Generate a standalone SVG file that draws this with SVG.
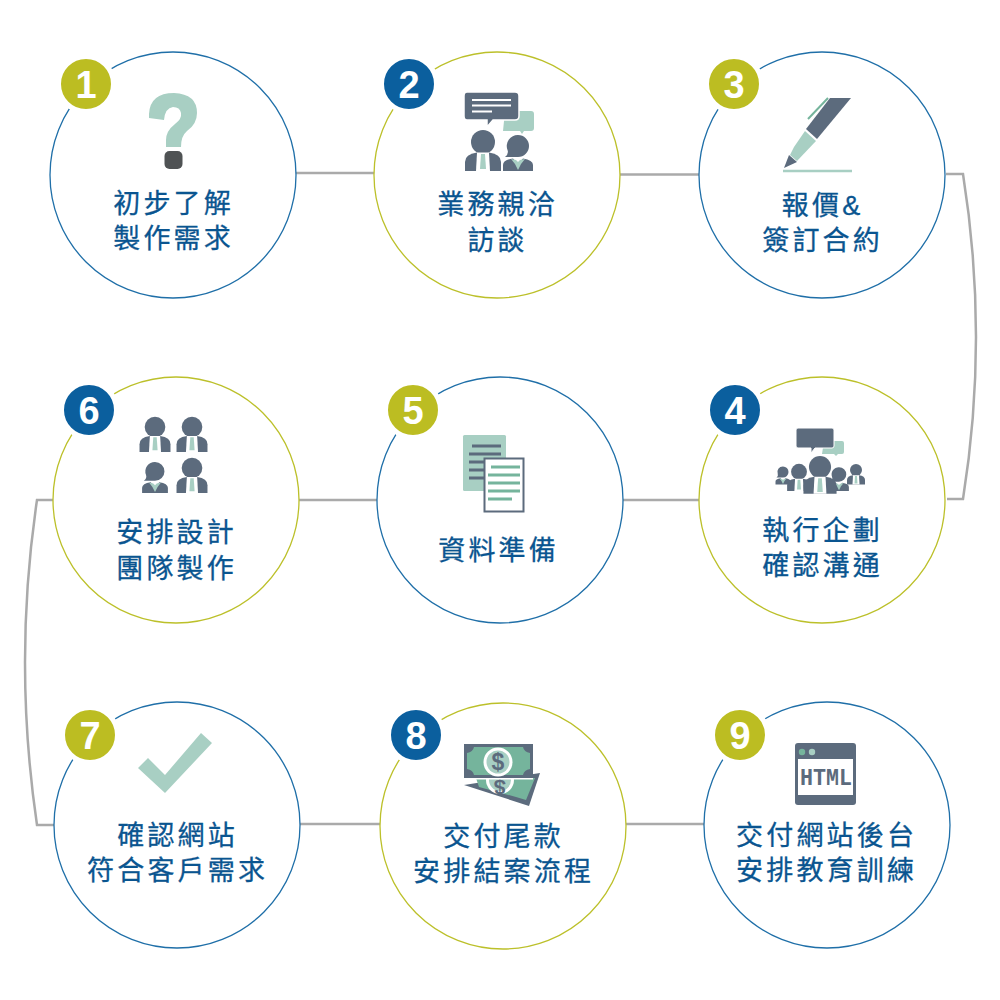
<svg xmlns="http://www.w3.org/2000/svg" width="1000" height="1000" viewBox="0 0 1000 1000">
<style>
.cb{fill:#fff;stroke:#1f6fa8;stroke-width:1.3}
.co{fill:#fff;stroke:#bcc02a;stroke-width:1.3}
.bb{fill:#0b5f9e;stroke:#fff;stroke-width:5}
.bo{fill:#bcbd22;stroke:#fff;stroke-width:5}
.n{font:bold 38px "Liberation Sans",Arial,sans-serif;fill:#fff;text-anchor:middle}
.t{font:400 27px "Liberation Sans","Noto Sans CJK TC",sans-serif;fill:#0a5590;stroke:#0a5590;stroke-width:.3;text-anchor:middle;letter-spacing:3.2px}
.c{fill:none;stroke:#aaa;stroke-width:2.5}
.d{fill:#5c6b7d}.g{fill:#a8cfc3}.m{fill:#75b49c}.w{fill:#fff}
.ml{stroke:#75b49c}.wl{stroke:#fff;stroke-width:2}
</style>
<defs>
<g id="man"><circle cx="0" cy="-14" r="12" class="d"/><path class="d" d="M-18 15V6Q-18-2-6-3.500H6Q18-2 18 6V15Z"/><path class="w" d="M-6-3.500H6L7 15H-7Z"/><path class="g" d="M-2-2H2L3 13H-3Z"/></g>
<g id="woman"><path class="d" d="M0-21A11 11 0 0 1 0 1H-13Q-9-2-10.500-6A11 11 0 0 1 0-21Z"/><path class="d" d="M-15 15V9Q-15 4-5 2.500L0 8 5 2.500Q15 4 15 9V15Z"/><path class="g" d="M-7 3L-2 4 0 6 2 4 7 3 3 8 0 14-3 8Z"/></g>
</defs>
<g id="connectors">
<path class="c" d="M296 173H375"/>
<path class="c" d="M620 174.500H699"/>
<path class="c" d="M946 174H963Q989 337 963 499H947"/>
<path class="c" d="M623 500H699"/>
<path class="c" d="M299 500H377"/>
<path class="c" d="M53 500H37Q13 662 37 825H54"/>
<path class="c" d="M300 824H380"/>
<path class="c" d="M626 824H704"/>
</g>
<g id="node1">
<circle class="cb" cx="173" cy="175" r="123"/><circle class="bo" cx="86" cy="84" r="27.500"/>
<text class="n" x="86" y="98">1</text>
<path class="g" d="M149 118V114Q150 93 174 93Q197 94 197 113Q197 124 187 131Q181 136 181 147H166V140Q166 131 175 124Q182 119 181 113Q180 107 173 107Q165 108 164 120Z"/>
<rect x="164.500" y="151" width="18" height="18" rx="5" fill="#4f5254"/>
<text class="t" x="173.600" y="213">初步了解</text><text class="t" x="173.600" y="248">製作需求</text>
</g>
<g id="node2">
<circle class="co" cx="497" cy="175" r="123"/><circle class="bb" cx="409" cy="84" r="27.500"/>
<text class="n" x="409" y="98">2</text>
<path class="g" d="M505 111H531Q534 111 534 114V128Q534 131 531 131H524L522 134 520 131H503Z"/>
<path class="d" stroke="#fff" stroke-width="1.500" d="M467 92H515Q519 92 519 96V116Q519 120 515 120H493L487 127 487 120H467Q464 120 464 116V96Q464 92 467 92Z"/>
<path class="wl" d="M472 100H511M472 105.500H511M472 111.500H492"/>
<use href="#man" x="483" y="156"/><use href="#woman" x="518" y="156"/>
<text class="t" x="497.600" y="214">業務親洽</text><text class="t" x="497.600" y="250">訪談</text>
</g>
<g id="node3">
<circle class="cb" cx="822" cy="175" r="123"/><circle class="bo" cx="734" cy="84" r="27.500"/>
<text class="n" x="734" y="98">3</text>
<path class="d" d="M830 98H851L817 139 806 129Z"/>
<path class="g" d="M805 131L816 141 797 161 790 155 794 147Z"/>
<path class="d" d="M789 155L797 162 784 168Z"/>
<path class="ml" fill="none" stroke-width="2" d="M808 119L828 98"/>
<path stroke="#a8cfc3" stroke-width="2.500" d="M783 171H852"/>
<text class="t" x="822.600" y="215">報價&amp;</text><text class="t" x="822.600" y="250">簽訂合約</text>
</g>
<g id="node4">
<circle class="co" cx="822" cy="500" r="123"/><circle class="bb" cx="735" cy="410" r="27.500"/>
<text class="n" x="735" y="424">4</text>
<path class="g" d="M824 441H842Q844 441 844 443V452Q844 454 842 454H838L836 456 834 454H822Z"/>
<path class="d" stroke="#fff" stroke-width="1" d="M798 428H832Q834 428 834 430V446Q834 448 832 448H815L811 453 811 448H798Q796 448 796 446V430Q796 428 798 428Z"/>
<use href="#woman" transform="translate(783 477) scale(.5)"/>
<use href="#man" transform="translate(856 477) scale(.5)"/>
<use href="#man" transform="translate(799 481) scale(.66)"/>
<use href="#woman" transform="translate(839 481) scale(.66)"/>
<use href="#man" transform="translate(820 480) scale(.92)"/>
<text class="t" x="822.600" y="540">執行企劃</text><text class="t" x="822.600" y="575">確認溝通</text>
</g>
<g id="node5">
<circle class="cb" cx="500" cy="500" r="123"/><circle class="bo" cx="413" cy="410" r="27.500"/>
<text class="n" x="413" y="424">5</text>
<rect x="463" y="435" width="43" height="56" rx="1.500" class="g"/>
<path stroke="#5c6b7d" stroke-width="3" d="M472 446H501M469 454H501M469 462H501M469 470H501M469 478H501"/>
<rect x="484.500" y="458.500" width="39" height="53" class="w" stroke="#5c6b7d" stroke-width="2"/>
<path class="ml" stroke-width="3" d="M491 467H520M488 475H520M488 483H520M488 491H520M488 499H512"/>
<text class="t" x="498.600" y="560">資料準備</text>
</g>
<g id="node6">
<circle class="co" cx="176" cy="500" r="123"/><circle class="bb" cx="89" cy="410" r="27.500"/>
<text class="n" x="89" y="424">6</text>
<use href="#man" transform="translate(155 439) scale(.86)"/>
<use href="#man" transform="translate(192 439) scale(.86)"/>
<use href="#woman" transform="translate(155 480) scale(.86)"/>
<use href="#man" transform="translate(192 480) scale(.86)"/>
<text class="t" x="176.600" y="542">安排設計</text><text class="t" x="176.600" y="578">團隊製作</text>
</g>
<g id="node7">
<circle class="cb" cx="177" cy="825" r="123"/><circle class="bo" cx="90" cy="735" r="27.500"/>
<text class="n" x="90" y="749">7</text>
<path class="g" d="M138 768L148 758 165 775 201 733 212 743 165 793Z"/>
<text class="t" x="177.600" y="845">確認網站</text><text class="t" x="177.600" y="880">符合客戶需求</text>
</g>
<g id="node8">
<circle class="co" cx="503" cy="826" r="123"/><circle class="bb" cx="416" cy="735" r="27.500"/>
<text class="n" x="416" y="749">8</text>
<path class="d" d="M464 785L540 773 529 806Z"/>
<path class="m" d="M476 778H535L526 800 516 797 479 787Z"/>
<circle cx="500" cy="780" r="14" class="w"/><circle cx="500" cy="780" r="11" class="g"/>
<text x="500" y="780" font-family="Liberation Sans,sans-serif" font-size="21" font-weight="700" fill="#5c6b7d" text-anchor="middle" transform="rotate(180 500 780)">$</text>
<path d="M464 778.500H533" stroke="#fff" stroke-width="2"/>
<rect x="464" y="744" width="69" height="34" class="d"/>
<path class="m" d="M474 747H523Q524 752 530 753V769Q524 770 523 775H474Q473 770 467 769V753Q473 752 474 747Z"/>
<circle cx="498" cy="762" r="14.500" class="w"/><circle cx="498" cy="762" r="11.500" class="g"/>
<text x="498" y="770" font-family="Liberation Sans,sans-serif" font-size="23" font-weight="700" fill="#5c6b7d" text-anchor="middle">$</text>
<text class="t" x="503.600" y="846">交付尾款</text><text class="t" x="503.600" y="881">安排結案流程</text>
</g>
<g id="node9">
<circle class="cb" cx="827" cy="825" r="123"/><circle class="bo" cx="740" cy="735" r="27.500"/>
<text class="n" x="740" y="749">9</text>
<rect x="795" y="743" width="61" height="62" rx="3" class="d"/>
<rect x="798" y="759" width="55" height="36" class="w"/>
<circle cx="802" cy="752" r="3.200" class="m"/><circle cx="812" cy="752" r="3.200" class="g"/>
<text x="800" y="785" font-family="Liberation Mono,monospace" font-size="23" font-weight="700" fill="#5c6b7d" textLength="52" lengthAdjust="spacingAndGlyphs">HTML</text>
<text class="t" x="826.600" y="845">交付網站後台</text><text class="t" x="826.600" y="880">安排教育訓練</text>
</g>
</svg>
